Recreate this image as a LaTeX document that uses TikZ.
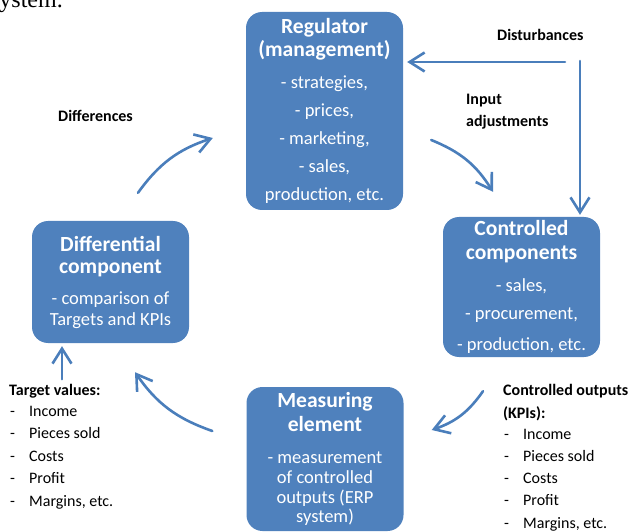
\documentclass[tikz,border=0pt]{standalone}
\usepackage{fontspec}
\setmainfont{Carlito}
\newfontfamily\serifbody{Liberation Serif}
\usetikzlibrary{arrows.meta}

\definecolor{blockblue}{HTML}{4F81BD}
\definecolor{arrowblue}{HTML}{4A7EBB}

\newcommand{\blocktitle}[1]{{\bfseries\fontsize{21.6}{23}\selectfont #1}}
\newcommand{\itemdash}{\makebox[19pt][l]{-}}

\begin{document}
\begin{tikzpicture}[x=1pt,y=-1pt,
    block/.style={rectangle, rounded corners=16pt, fill=blockblue, text=white,
      align=center, minimum width=157pt, inner sep=2pt, font=\fontsize{18.5}{21}\selectfont},
    flow/.style={draw=arrowblue, line width=2.6pt, line cap=round,
      -{Straight Barb[length=15pt,width=19pt,line width=2.6pt]}},
    note/.style={anchor=base west, inner sep=0pt, font=\fontsize{16}{22.5}\selectfont},
    boldnote/.style={note, font=\bfseries\fontsize{16}{22.5}\selectfont}]

      % Variables
      \def \listgap {22.5}

      \useasboundingbox (0,0) rectangle (630,532);

      % Cut-off line of the text above
      \node[anchor=base east, inner sep=0pt, font=\serifbody\fontsize{24}{24}\selectfont] (cut) at (63,8) {system.};

      % Blocks
      \node[block, minimum height=198pt] (reg) at (324.5,111) {\blocktitle{Regulator}\\[2pt] \blocktitle{(management)}\\[11pt]
        - strategies,\\[7pt] - prices,\\[7pt] - marketing,\\[7pt] - sales,\\[7pt] production, etc.};
      \node[block, minimum height=140pt] (ctrl) at (521.5,287) {\blocktitle{Controlled}\\[3pt] \blocktitle{components}\\[11pt]
        - sales,\\[7pt] - procurement,\\[10pt] - production, etc.};
      \node[block, minimum height=122pt] (diff) at (110.5,282) {\blocktitle{Differential}\\[1pt] \blocktitle{component}\\[10pt]
        - comparison of\\ Targets and KPIs};
      \node[block, minimum height=144pt] (meas) at (325,459) {\blocktitle{Measuring}\\[3pt] \blocktitle{element}\\[11pt]
        - measurement\\[-1pt] of controlled\\[-1pt] outputs (ERP\\[-2pt] system)};

      % Labels
      \node[boldnote] (differences) at (58,122) {Differences};
      \node[boldnote] (disturb) at (497,41) {Disturbances};
      \node[boldnote] (input) at (466,105) {Input};
      \node[boldnote] (adjust) at (466,127) {adjustments};

      % Target values
      \node[boldnote] (tvhead) at (9,395) {Target values:};
      \foreach \txt [count=\i from 0] in {Income, Pieces sold, Costs, Profit, {Margins, etc.}}
        \node[note] (tv\i) at (10, 416+\i*\listgap) {\itemdash\txt};

      % Controlled outputs
      \node[boldnote] (cohead) at (503,395) {Controlled outputs};
      \node[boldnote] (kpis) at (503,418) {(KPIs):};
      \foreach \txt [count=\i from 0] in {Income, Pieces sold, Costs, Profit, {Margins, etc.}}
        \node[note] (co\i) at (504, 439+\i*22.3) {\itemdash\txt};

      % Disturbance corner
      \coordinate (dist) at (580,61);

      % Arrows
      \draw[flow] ([shift={(27.5,-28)}]diff.north) to[bend left=18] ([shift={(-33,27)}]reg.west);
      \draw[flow] ([shift={(28,29)}]reg.east) to[bend left=18] ([shift={(-28.5,-25)}]ctrl.north);
      \draw[flow] ([shift={(-38.5,34)}]ctrl.south) to[bend left=18] ([shift={(28,-29)}]meas.east);
      \draw[flow] ([shift={(-34,-28)}]meas.west) to[bend left=18] ([shift={(24.5,29)}]diff.south);
      \draw[flow] ([shift={(-48.5,36)}]diff.south) -- ([shift={(-48.5,3)}]diff.south);
      \draw[flow] ([shift={(-15,1)}]dist) -- ([shift={(4,-49)}]reg.east);
      \draw[flow] (dist) -- ([shift={(58.5,-2)}]ctrl.north);

\end{tikzpicture}
\end{document}
